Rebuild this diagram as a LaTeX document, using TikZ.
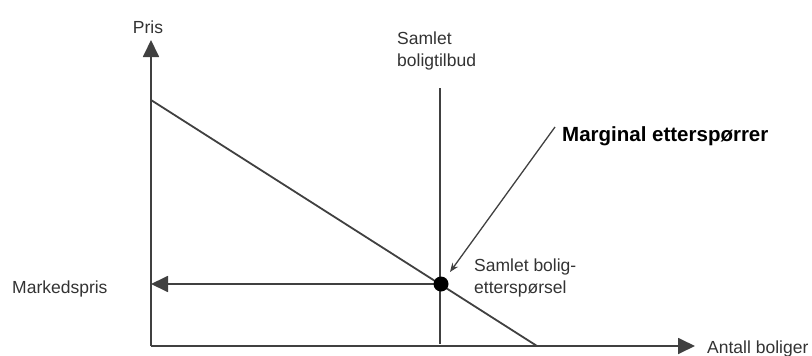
\documentclass[tikz,border=0pt]{standalone}
\usepackage{fontspec}
\setmainfont{Liberation Sans}
\usetikzlibrary{arrows.meta}
\definecolor{ink}{HTML}{404040}
\definecolor{txt}{HTML}{333333}
\begin{document}
\begin{tikzpicture}[x=1pt,y=-1pt,
  axis/.style={draw=ink,line width=1.8pt},
  tip/.style={-{Triangle[length=17pt,width=16pt]}},
  lbl/.style={inner sep=0pt,text=txt,font=\fontsize{17.5}{22}\selectfont,align=left},
  callout/.style={inner sep=0pt,text=black,font=\bfseries\fontsize{20.5}{24}\selectfont}]
\useasboundingbox (0,0) rectangle (812,356);
% axes
\coordinate (O) at (151,346);
\coordinate (ytop) at (151,40);
\coordinate (xend) at (695,346);
\draw[axis,tip] (O) -- (ytop);
\draw[axis,tip] (O) -- (xend);
% supply and demand
\coordinate (dtop) at (151,100);
\coordinate (dbot) at (537,346);
\coordinate (stop) at (440,88);
\coordinate (sbot) at (440,344);
\coordinate (mp) at (151,284);
\coordinate (eqc) at (441,284);
\draw[axis] (dtop) -- (dbot);
\draw[axis] (stop) -- (sbot);
\draw[axis,tip] (eqc) -- (mp);
% equilibrium point on top of the lines
\node[circle,fill=black,inner sep=0pt,minimum size=15pt] (eq) at (eqc) {};
% labels
\node[lbl,anchor=base] (pris) at (148,33) {Pris};
\node[lbl,anchor=base west] (mkt) at (12,293) {Markedspris};
\node[lbl,anchor=base west] (antall) at (707,353) {Antall boliger};
\node[lbl,anchor=north west] (tilbud) at (397,32) {Samlet\\boligtilbud};
\node[lbl,anchor=north west] (ettersp) at (474,259) {Samlet bolig-\\etterspørsel};
\node[callout,anchor=base west] (marg) at (562,141) {Marginal etterspørrer};
\coordinate (mstart) at (555,127);
\coordinate (mend) at (450,272);
\draw[draw=ink,line width=1.3pt,-{Stealth[length=9pt,width=7pt]}] (mstart) -- (mend);
\end{tikzpicture}
\end{document}
